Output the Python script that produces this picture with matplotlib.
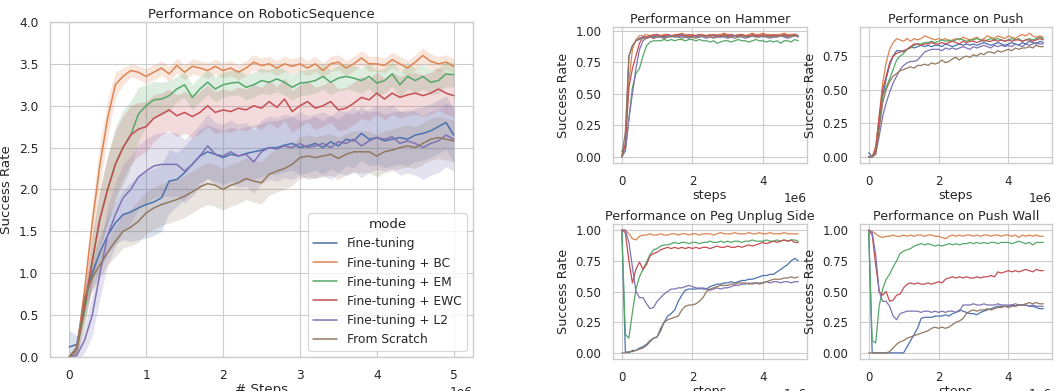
import numpy as np
import matplotlib
matplotlib.use('Agg')
import matplotlib.pyplot as plt
import seaborn as sns

sns.set_theme(style='whitegrid', context='paper')
plt.rcParams['font.family'] = ['DejaVu Sans']

# x grid: one sample every 0.1e6 steps
steps = np.linspace(0, 5e6, 51)

modes = ['Fine-tuning', 'Fine-tuning + BC', 'Fine-tuning + EM',
         'Fine-tuning + EWC', 'Fine-tuning + L2', 'From Scratch']
colors = sns.color_palette('deep', 6)

# ---- RoboticSequence (sum of success rates), mean and CI half-width ----
seq_ft = [0.12, 0.15, 0.65, 1.00, 1.25, 1.45, 1.60, 1.70, 1.73, 1.78,
          1.82, 1.85, 1.90, 2.10, 2.12, 2.20, 2.30, 2.40, 2.45, 2.42,
          2.38, 2.42, 2.40, 2.43, 2.45, 2.47, 2.50, 2.50, 2.53, 2.55,
          2.50, 2.52, 2.55, 2.50, 2.57, 2.52, 2.60, 2.58, 2.67, 2.60,
          2.62, 2.58, 2.60, 2.62, 2.60, 2.65, 2.67, 2.70, 2.75, 2.80,
          2.65]
seq_bc = [0.00, 0.10, 0.80, 1.60, 2.30, 2.85, 3.25, 3.35, 3.42, 3.40,
          3.35, 3.40, 3.45, 3.38, 3.48, 3.40, 3.47, 3.45, 3.42, 3.47,
          3.42, 3.45, 3.40, 3.45, 3.52, 3.48, 3.50, 3.45, 3.50, 3.47,
          3.50, 3.45, 3.50, 3.42, 3.50, 3.52, 3.45, 3.50, 3.57, 3.50,
          3.50, 3.48, 3.55, 3.50, 3.45, 3.52, 3.60, 3.53, 3.50, 3.52,
          3.47]
seq_em = [0.00, 0.10, 0.55, 1.15, 1.65, 2.00, 2.30, 2.50, 2.65, 2.90,
          3.00, 3.07, 3.08, 3.12, 3.20, 3.25, 3.10, 3.20, 3.28, 3.20,
          3.25, 3.27, 3.28, 3.22, 3.25, 3.30, 3.28, 3.32, 3.28, 3.22,
          3.27, 3.28, 3.30, 3.35, 3.28, 3.33, 3.35, 3.33, 3.30, 3.35,
          3.27, 3.30, 3.38, 3.25, 3.35, 3.30, 3.35, 3.28, 3.30, 3.38,
          3.37]
seq_ewc = [0.00, 0.10, 0.60, 1.15, 1.65, 2.00, 2.30, 2.50, 2.65, 2.72,
           2.75, 2.85, 2.90, 2.95, 2.88, 2.92, 2.87, 2.92, 3.00, 2.92,
           2.95, 2.93, 2.97, 2.95, 3.00, 2.97, 3.05, 2.98, 3.08, 2.93,
           3.00, 3.05, 2.97, 3.00, 3.05, 2.95, 2.97, 3.03, 3.10, 3.07,
           3.15, 3.08, 3.15, 3.10, 3.13, 3.15, 3.12, 3.15, 3.20, 3.15,
           3.12]
seq_l2 = [0.00, 0.02, 0.20, 0.50, 1.00, 1.45, 1.70, 1.90, 2.00, 2.15,
          2.22, 2.28, 2.30, 2.30, 2.30, 2.22, 2.30, 2.40, 2.52, 2.42,
          2.40, 2.45, 2.40, 2.42, 2.33, 2.45, 2.50, 2.48, 2.52, 2.50,
          2.55, 2.50, 2.52, 2.55, 2.50, 2.57, 2.55, 2.60, 2.52, 2.58,
          2.62, 2.60, 2.63, 2.55, 2.58, 2.55, 2.50, 2.55, 2.58, 2.65,
          2.60]
seq_scratch = [0.00, 0.10, 0.70, 0.95, 1.10, 1.25, 1.38, 1.50, 1.55, 1.62,
               1.72, 1.78, 1.82, 1.85, 1.88, 1.92, 1.97, 2.03, 2.07, 2.05,
               2.00, 2.05, 2.08, 2.13, 2.10, 2.08, 2.18, 2.22, 2.25, 2.30,
               2.38, 2.40, 2.38, 2.40, 2.42, 2.37, 2.42, 2.45, 2.45, 2.45,
               2.40, 2.45, 2.47, 2.50, 2.52, 2.50, 2.55, 2.60, 2.62, 2.60,
               2.58]

ci_ft = [0.20, 0.10, 0.15, 0.18, 0.20, 0.22, 0.25, 0.30, 0.35, 0.38,
         0.40, 0.40, 0.40, 0.38] + [0.32] * 37
ci_bc = [0.02, 0.05, 0.15, 0.22, 0.25, 0.22, 0.15, 0.10, 0.08, 0.08] + [0.09] * 41
ci_em = [0.02, 0.08, 0.20, 0.30, 0.35, 0.40, 0.45, 0.45, 0.40, 0.32,
         0.25, 0.22, 0.20, 0.18] + [0.15] * 37
ci_ewc = [0.02, 0.08, 0.20, 0.30, 0.35, 0.40, 0.40, 0.38, 0.35, 0.32,
          0.30, 0.28] + [0.25] * 39
ci_l2 = [0.05, 0.08, 0.15, 0.25, 0.30, 0.35, 0.38, 0.40, 0.40] + [0.38] * 42
ci_scratch = [0.02, 0.05, 0.12, 0.15, 0.15, 0.15, 0.18, 0.20, 0.22] + [0.25] * 42

# ---- per task success rates ----
hammer = {
    'Fine-tuning': [0.04, 0.10, 0.80, 0.88, 0.92, 0.94, 0.95, 0.95, 0.96, 0.95,
                    0.96, 0.96, 0.95, 0.96, 0.96, 0.95, 0.96, 0.97, 0.96, 0.95,
                    0.96, 0.96, 0.95, 0.96, 0.96, 0.97, 0.96, 0.95, 0.96, 0.96,
                    0.95, 0.96, 0.96, 0.97, 0.96, 0.96, 0.95, 0.96, 0.96, 0.96,
                    0.95, 0.96, 0.96, 0.95, 0.96, 0.97, 0.96, 0.96, 0.97, 0.97,
                    0.96],
    'Fine-tuning + BC': [0.00, 0.10, 0.60, 0.85, 0.93, 0.96, 0.96, 0.97, 0.96, 0.97,
                         0.97, 0.96, 0.97, 0.97, 0.96, 0.97, 0.97, 0.98, 0.97, 0.96,
                         0.97, 0.96, 0.97, 0.97, 0.96, 0.97, 0.96, 0.97, 0.97, 0.98,
                         0.97, 0.97, 0.96, 0.97, 0.97, 0.96, 0.97, 0.98, 0.97, 0.97,
                         0.98, 0.97, 0.97, 0.96, 0.97, 0.97, 0.98, 0.97, 0.97, 0.97,
                         0.96],
    'Fine-tuning + EM': [0.00, 0.05, 0.30, 0.55, 0.66, 0.70, 0.80, 0.88, 0.91, 0.92,
                         0.92, 0.92, 0.93, 0.92, 0.93, 0.92, 0.93, 0.93, 0.92, 0.93,
                         0.93, 0.92, 0.93, 0.92, 0.92, 0.91, 0.92, 0.90, 0.91, 0.92,
                         0.92, 0.91, 0.92, 0.93, 0.92, 0.92, 0.91, 0.92, 0.93, 0.92,
                         0.92, 0.91, 0.92, 0.91, 0.92, 0.90, 0.92, 0.92, 0.91, 0.93,
                         0.92],
    'Fine-tuning + EWC': [0.00, 0.10, 0.55, 0.70, 0.80, 0.90, 0.95, 0.95, 0.96, 0.96,
                          0.97, 0.96, 0.96, 0.97, 0.96, 0.96, 0.97, 0.96, 0.96, 0.97,
                          0.96, 0.96, 0.97, 0.96, 0.96, 0.96, 0.97, 0.96, 0.96, 0.97,
                          0.96, 0.97, 0.96, 0.96, 0.97, 0.96, 0.96, 0.97, 0.96, 0.96,
                          0.97, 0.96, 0.96, 0.97, 0.96, 0.96, 0.97, 0.96, 0.96, 0.97,
                          0.96],
    'Fine-tuning + L2': [0.00, 0.05, 0.30, 0.50, 0.70, 0.85, 0.92, 0.94, 0.95, 0.94,
                         0.95, 0.95, 0.94, 0.95, 0.96, 0.95, 0.95, 0.96, 0.95, 0.94,
                         0.95, 0.95, 0.96, 0.95, 0.94, 0.95, 0.95, 0.96, 0.95, 0.95,
                         0.94, 0.95, 0.96, 0.95, 0.95, 0.94, 0.95, 0.96, 0.95, 0.95,
                         0.96, 0.95, 0.94, 0.95, 0.95, 0.96, 0.95, 0.94, 0.95, 0.96,
                         0.95],
    'From Scratch': [0.00, 0.20, 0.80, 0.88, 0.92, 0.93, 0.94, 0.94, 0.95, 0.94,
                     0.95, 0.95, 0.94, 0.95, 0.95, 0.96, 0.95, 0.94, 0.95, 0.95,
                     0.95, 0.94, 0.95, 0.96, 0.95, 0.95, 0.94, 0.95, 0.95, 0.96,
                     0.95, 0.95, 0.94, 0.95, 0.96, 0.95, 0.95, 0.96, 0.95, 0.95,
                     0.96, 0.95, 0.95, 0.96, 0.95, 0.96, 0.96, 0.95, 0.96, 0.96,
                     0.96],
}

push = {
    'Fine-tuning': [0.03, 0.00, 0.05, 0.25, 0.45, 0.58, 0.68, 0.75, 0.79, 0.79,
                    0.78, 0.80, 0.82, 0.81, 0.82, 0.83, 0.82, 0.83, 0.82, 0.83,
                    0.83, 0.82, 0.84, 0.83, 0.82, 0.83, 0.84, 0.83, 0.84, 0.83,
                    0.84, 0.83, 0.84, 0.85, 0.84, 0.83, 0.84, 0.85, 0.84, 0.83,
                    0.84, 0.85, 0.84, 0.83, 0.85, 0.84, 0.86, 0.85, 0.84, 0.86,
                    0.85],
    'Fine-tuning + BC': [0.00, 0.00, 0.08, 0.30, 0.55, 0.70, 0.80, 0.85, 0.88, 0.87,
                         0.86, 0.88, 0.86, 0.88, 0.87, 0.88, 0.90, 0.89, 0.88, 0.87,
                         0.88, 0.87, 0.88, 0.86, 0.87, 0.88, 0.87, 0.89, 0.88, 0.87,
                         0.88, 0.89, 0.87, 0.88, 0.90, 0.89, 0.88, 0.90, 0.89, 0.88,
                         0.90, 0.89, 0.88, 0.90, 0.91, 0.90, 0.92, 0.90, 0.89, 0.90,
                         0.89],
    'Fine-tuning + EM': [0.00, 0.00, 0.03, 0.25, 0.45, 0.52, 0.58, 0.65, 0.72, 0.75,
                         0.77, 0.80, 0.81, 0.83, 0.84, 0.84, 0.85, 0.85, 0.86, 0.85,
                         0.86, 0.87, 0.86, 0.87, 0.86, 0.87, 0.88, 0.87, 0.86, 0.87,
                         0.87, 0.88, 0.87, 0.86, 0.87, 0.88, 0.87, 0.88, 0.87, 0.86,
                         0.87, 0.88, 0.87, 0.88, 0.86, 0.87, 0.88, 0.87, 0.88, 0.89,
                         0.88],
    'Fine-tuning + EWC': [0.00, 0.00, 0.05, 0.30, 0.50, 0.60, 0.70, 0.75, 0.77, 0.78,
                          0.79, 0.80, 0.82, 0.84, 0.84, 0.83, 0.84, 0.84, 0.85, 0.84,
                          0.84, 0.85, 0.84, 0.85, 0.86, 0.85, 0.84, 0.86, 0.85, 0.86,
                          0.86, 0.85, 0.86, 0.87, 0.86, 0.86, 0.87, 0.86, 0.87, 0.86,
                          0.87, 0.86, 0.87, 0.87, 0.86, 0.87, 0.87, 0.86, 0.87, 0.88,
                          0.87],
    'Fine-tuning + L2': [0.00, 0.00, 0.02, 0.15, 0.30, 0.40, 0.48, 0.55, 0.60, 0.65,
                         0.68, 0.70, 0.71, 0.71, 0.72, 0.75, 0.78, 0.79, 0.80, 0.80,
                         0.80, 0.79, 0.81, 0.80, 0.81, 0.80, 0.81, 0.82, 0.81, 0.80,
                         0.82, 0.81, 0.82, 0.83, 0.82, 0.81, 0.83, 0.82, 0.83, 0.82,
                         0.83, 0.82, 0.84, 0.83, 0.82, 0.84, 0.83, 0.84, 0.85, 0.84,
                         0.84],
    'From Scratch': [0.00, 0.00, 0.02, 0.20, 0.40, 0.50, 0.56, 0.60, 0.62, 0.64,
                     0.65, 0.66, 0.67, 0.66, 0.68, 0.68, 0.69, 0.68, 0.70, 0.69,
                     0.70, 0.72, 0.70, 0.71, 0.73, 0.74, 0.72, 0.74, 0.75, 0.74,
                     0.76, 0.75, 0.77, 0.76, 0.78, 0.78, 0.77, 0.79, 0.78, 0.79,
                     0.80, 0.79, 0.81, 0.80, 0.81, 0.81, 0.82, 0.81, 0.83, 0.82,
                     0.82],
}

peg_unplug = {
    'Fine-tuning': [1.00, 0.01, 0.00, 0.02, 0.02, 0.04, 0.05, 0.07, 0.10, 0.12,
                    0.13, 0.18, 0.25, 0.30, 0.32, 0.35, 0.42, 0.47, 0.51, 0.52,
                    0.52, 0.52, 0.53, 0.52, 0.52, 0.54, 0.55, 0.56, 0.56, 0.57,
                    0.57, 0.58, 0.57, 0.58, 0.59, 0.59, 0.60, 0.60, 0.61, 0.62,
                    0.63, 0.63, 0.64, 0.64, 0.66, 0.68, 0.70, 0.72, 0.75, 0.77,
                    0.75],
    'Fine-tuning + BC': [1.00, 1.00, 0.97, 0.93, 0.92, 0.95, 0.96, 0.96, 0.97, 0.96,
                         0.96, 0.97, 0.96, 0.96, 0.97, 0.97, 0.96, 0.97, 0.97, 0.96,
                         0.97, 0.97, 0.96, 0.97, 0.97, 0.97, 0.96, 0.97, 0.98, 0.97,
                         0.97, 0.97, 0.98, 0.97, 0.97, 0.97, 0.98, 0.97, 0.97, 0.98,
                         0.97, 0.97, 0.98, 0.97, 0.97, 0.97, 0.98, 0.97, 0.97, 0.97,
                         0.97],
    'Fine-tuning + EM': [1.00, 0.15, 0.12, 0.33, 0.52, 0.62, 0.68, 0.74, 0.80, 0.84,
                         0.85, 0.87, 0.88, 0.88, 0.89, 0.90, 0.89, 0.90, 0.90, 0.89,
                         0.90, 0.90, 0.89, 0.90, 0.90, 0.91, 0.90, 0.90, 0.91, 0.90,
                         0.91, 0.90, 0.91, 0.91, 0.90, 0.91, 0.91, 0.92, 0.91, 0.91,
                         0.91, 0.92, 0.91, 0.91, 0.92, 0.91, 0.92, 0.91, 0.92, 0.92,
                         0.91],
    'Fine-tuning + EWC': [1.00, 0.98, 0.75, 0.57, 0.68, 0.74, 0.68, 0.72, 0.79, 0.81,
                          0.82, 0.84, 0.85, 0.86, 0.85, 0.86, 0.85, 0.86, 0.85, 0.86,
                          0.85, 0.86, 0.85, 0.86, 0.86, 0.85, 0.86, 0.87, 0.86, 0.86,
                          0.87, 0.86, 0.86, 0.87, 0.86, 0.87, 0.88, 0.87, 0.88, 0.89,
                          0.90, 0.89, 0.90, 0.91, 0.90, 0.91, 0.92, 0.91, 0.92, 0.90,
                          0.90],
    'Fine-tuning + L2': [1.00, 1.00, 0.90, 0.70, 0.50, 0.45, 0.45, 0.40, 0.36, 0.37,
                         0.42, 0.45, 0.48, 0.50, 0.52, 0.52, 0.53, 0.53, 0.54, 0.55,
                         0.54, 0.53, 0.52, 0.53, 0.52, 0.51, 0.52, 0.53, 0.52, 0.53,
                         0.53, 0.54, 0.55, 0.55, 0.56, 0.56, 0.57, 0.56, 0.57, 0.57,
                         0.57, 0.58, 0.57, 0.58, 0.58, 0.57, 0.58, 0.58, 0.57, 0.58,
                         0.58],
    'From Scratch': [0.00, 0.00, 0.01, 0.01, 0.02, 0.03, 0.04, 0.06, 0.09, 0.12,
                     0.13, 0.20, 0.25, 0.27, 0.28, 0.29, 0.30, 0.35, 0.38, 0.39,
                     0.39, 0.40, 0.42, 0.45, 0.50, 0.52, 0.53, 0.54, 0.55, 0.55,
                     0.55, 0.56, 0.56, 0.57, 0.57, 0.57, 0.56, 0.57, 0.57, 0.56,
                     0.57, 0.58, 0.59, 0.60, 0.60, 0.60, 0.61, 0.61, 0.62, 0.61,
                     0.62],
}

push_wall = {
    'Fine-tuning': [1.00, 0.00, 0.00, 0.00, 0.00, 0.00, 0.00, 0.00, 0.00, 0.00,
                    0.00, 0.05, 0.10, 0.15, 0.20, 0.28, 0.29, 0.29, 0.29, 0.30,
                    0.30, 0.30, 0.31, 0.30, 0.32, 0.33, 0.35, 0.34, 0.33, 0.32,
                    0.32, 0.31, 0.33, 0.34, 0.35, 0.36, 0.37, 0.38, 0.38, 0.38,
                    0.38, 0.39, 0.38, 0.39, 0.39, 0.39, 0.38, 0.38, 0.37, 0.36,
                    0.36],
    'Fine-tuning + BC': [1.00, 0.99, 0.97, 0.95, 0.94, 0.95, 0.95, 0.96, 0.95, 0.95,
                         0.96, 0.95, 0.96, 0.95, 0.96, 0.96, 0.95, 0.96, 0.96, 0.95,
                         0.95, 0.94, 0.93, 0.95, 0.96, 0.95, 0.96, 0.95, 0.96, 0.96,
                         0.95, 0.96, 0.95, 0.96, 0.96, 0.95, 0.96, 0.96, 0.95, 0.96,
                         0.96, 0.95, 0.96, 0.94, 0.96, 0.95, 0.96, 0.95, 0.96, 0.95,
                         0.95],
    'Fine-tuning + EM': [1.00, 0.10, 0.08, 0.38, 0.52, 0.60, 0.64, 0.70, 0.75, 0.81,
                         0.83, 0.84, 0.85, 0.87, 0.88, 0.89, 0.88, 0.89, 0.88, 0.87,
                         0.88, 0.87, 0.88, 0.89, 0.88, 0.89, 0.88, 0.89, 0.89, 0.90,
                         0.89, 0.90, 0.89, 0.90, 0.89, 0.90, 0.90, 0.89, 0.90, 0.90,
                         0.90, 0.89, 0.90, 0.91, 0.90, 0.89, 0.90, 0.88, 0.90, 0.90,
                         0.90],
    'Fine-tuning + EWC': [1.00, 0.96, 0.72, 0.50, 0.47, 0.50, 0.42, 0.43, 0.47, 0.48,
                          0.53, 0.56, 0.57, 0.56, 0.57, 0.56, 0.56, 0.57, 0.56, 0.57,
                          0.58, 0.57, 0.60, 0.61, 0.62, 0.61, 0.62, 0.61, 0.62, 0.61,
                          0.61, 0.62, 0.61, 0.62, 0.62, 0.63, 0.62, 0.66, 0.65, 0.66,
                          0.67, 0.66, 0.67, 0.66, 0.67, 0.68, 0.67, 0.66, 0.68, 0.67,
                          0.67],
    'Fine-tuning + L2': [1.00, 0.98, 0.80, 0.50, 0.42, 0.42, 0.38, 0.30, 0.27, 0.32,
                         0.33, 0.34, 0.34, 0.34, 0.34, 0.33, 0.34, 0.34, 0.33, 0.34,
                         0.33, 0.34, 0.33, 0.34, 0.34, 0.33, 0.34, 0.39, 0.39, 0.39,
                         0.40, 0.39, 0.39, 0.40, 0.39, 0.39, 0.39, 0.40, 0.39, 0.39,
                         0.39, 0.39, 0.40, 0.39, 0.39, 0.39, 0.38, 0.39, 0.38, 0.38,
                         0.38],
    'From Scratch': [0.00, 0.00, 0.00, 0.00, 0.00, 0.00, 0.01, 0.04, 0.07, 0.09,
                     0.10, 0.12, 0.13, 0.14, 0.15, 0.16, 0.17, 0.18, 0.20, 0.21,
                     0.20, 0.21, 0.20, 0.21, 0.23, 0.25, 0.26, 0.28, 0.32, 0.34,
                     0.35, 0.34, 0.35, 0.35, 0.36, 0.35, 0.36, 0.37, 0.37, 0.38,
                     0.37, 0.38, 0.38, 0.39, 0.39, 0.40, 0.41, 0.40, 0.41, 0.40,
                     0.40],
}

seq_means = [seq_ft, seq_bc, seq_em, seq_ewc, seq_l2, seq_scratch]
seq_cis = [ci_ft, ci_bc, ci_em, ci_ewc, ci_l2, ci_scratch]

fig = plt.figure(figsize=(10.54, 3.91), dpi=100)

# main panel
ax = fig.add_axes([0.0474, 0.087, 0.4013, 0.8568])
for name, mean, ci, c in zip(modes, seq_means, seq_cis, colors):
    mean = np.array(mean)
    ci = np.array(ci)
    ax.fill_between(steps, mean - ci, mean + ci, color=c, alpha=0.2, linewidth=0)
    ax.plot(steps, mean, color=c, lw=1.1, label=name)
ax.set_ylim(0, 4.0)
ax.set_title('Performance on RoboticSequence', fontsize=9.6, pad=3)
ax.set_xlabel('# Steps', fontsize=9.6, labelpad=1)
ax.set_ylabel('Success Rate', fontsize=9.6)
ax.tick_params(labelsize=8.8)
leg = ax.legend(title='mode', loc='lower right', fontsize=8.8, title_fontsize=9.6)

# task panels
tasks = [('Hammer', hammer), ('Push', push),
         ('Peg Unplug Side', peg_unplug), ('Push Wall', push_wall)]
rects = [[0.5816, 0.5831, 0.1841, 0.3478],
         [0.8159, 0.5831, 0.1822, 0.3478],
         [0.5816, 0.0818, 0.1841, 0.3453],
         [0.8159, 0.0818, 0.1822, 0.3453]]
for (tname, tdata), r in zip(tasks, rects):
    a = fig.add_axes(r)
    for name, c in zip(modes, colors):
        a.plot(steps, tdata[name], color=c, lw=0.9)
    a.set_title('Performance on ' + tname, fontsize=9.2, pad=3)
    a.set_xlabel('steps', fontsize=9.2, labelpad=1)
    a.set_ylabel('Success Rate', fontsize=9.2)
    a.set_xticks([0, 2e6, 4e6])
    a.tick_params(labelsize=8.5)

fig.savefig('out.png', dpi=100)
